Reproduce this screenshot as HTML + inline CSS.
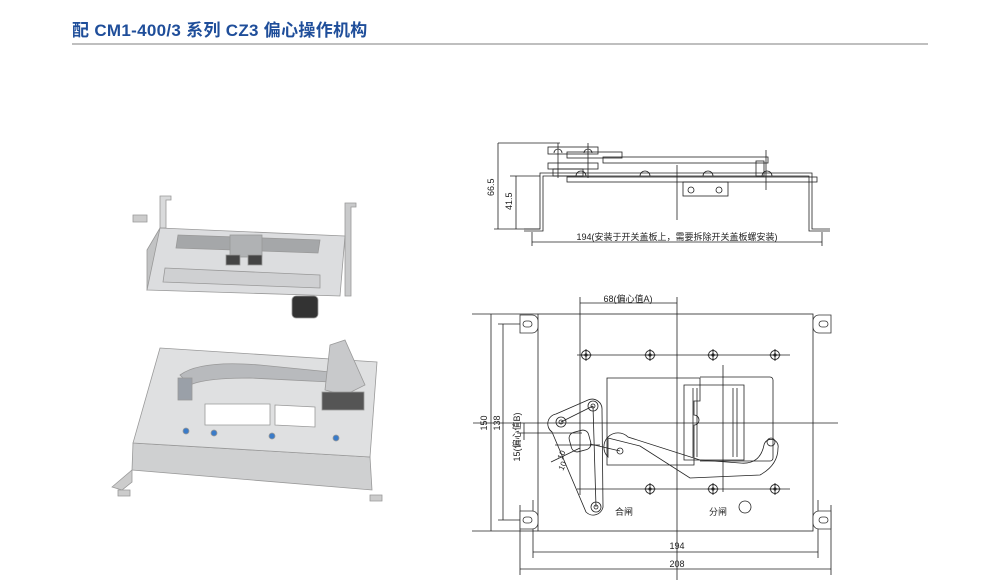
<!DOCTYPE html>
<html><head><meta charset="utf-8"><style>
html,body{margin:0;padding:0;background:#fff;width:1000px;height:583px;overflow:hidden}
svg{position:absolute;left:0;top:0}
.t{font-family:"Liberation Sans","Noto Sans CJK SC",sans-serif}
</style></head><body>
<svg width="1000" height="583" viewBox="0 0 1000 583" xmlns="http://www.w3.org/2000/svg">
<defs>
<g id="hole"><circle r="4.5" fill="none" stroke="#222" stroke-width="0.9"/><line x1="-6" y1="0" x2="6" y2="0" stroke="#222" stroke-width="0.9"/><line x1="0" y1="-6" x2="0" y2="6" stroke="#222" stroke-width="0.9"/><circle r="1.6" fill="#222"/></g>
<g id="ear"><path d="M-8,-9 h12 a6,6 0 0 1 6,6 v6 a6,6 0 0 1 -6,6 h-12 z" fill="#fff" stroke="#333" stroke-width="0.8"/><rect x="-5" y="-3" width="9" height="6" rx="3" fill="none" stroke="#333" stroke-width="0.8"/></g>
</defs>
<text x="72" y="36" class="t" font-size="17" font-weight="bold" fill="#1f4e9a" letter-spacing="0.3">配 CM1-400/3 系列 CZ3 偏心操作机构</text>
<line x1="72" y1="44" x2="928" y2="44" stroke="#999" stroke-width="1.2"/>

<!-- photo 1 -->
<g stroke="#999" stroke-width="0.8">
<polygon points="160,196 171,196 171,200 166,200 166,228 160,228" fill="#d9dadb"/>
<polygon points="345,203 356,203 356,207 351,207 351,296 345,296" fill="#c9cacb"/>
<polygon points="147,250 160,228 160,278 147,290" fill="#c2c3c4"/>
<polygon points="160,228 345,236 340,296 147,290" fill="#dcdddf"/>
<polygon points="178,235 320,240 318,253 176,248" fill="#a5a7a9"/>
<polygon points="165,268 320,275 320,288 163,282" fill="#cfd0d2"/>
<rect x="230" y="235" width="32" height="22" fill="#b0b2b4"/>
<rect x="226" y="255" width="14" height="10" fill="#444"/><rect x="248" y="255" width="14" height="10" fill="#444"/>
<rect x="292" y="296" width="26" height="22" rx="4" fill="#333"/>
<polygon points="133,215 147,215 147,222 133,222" fill="#ccc"/>
</g>
<!-- photo 2 -->
<g stroke="#999" stroke-width="0.8">
<polygon points="133,443 370,457 372,490 132,470" fill="#cfd0d1"/>
<polygon points="112,487 132,470 132,482 122,490" fill="#ccc"/>
<polygon points="160,348 377,362 370,457 133,443" fill="#dfe0e1"/>
<polygon points="205,404 270,404 270,425 205,425" fill="#fff"/>
<polygon points="275,405 315,407 315,427 275,425" fill="#fff"/>
<path d="M180,375 Q200,360 260,365 L330,372 L330,382 L250,378 Q205,378 190,385 Z" fill="#b8babd"/>
<rect x="178" y="378" width="14" height="22" fill="#9aa0a8"/>
<polygon points="330,345 345,340 365,385 345,395 325,390" fill="#c8c9cb"/>
<rect x="322" y="392" width="42" height="18" fill="#555"/>
<circle cx="186" cy="431" r="3" fill="#3a7bc8"/><circle cx="214" cy="433" r="3" fill="#3a7bc8"/><circle cx="272" cy="436" r="3" fill="#3a7bc8"/><circle cx="336" cy="438" r="3" fill="#3a7bc8"/>
<polygon points="118,490 130,490 130,496 118,496" fill="#ccc"/>
<polygon points="370,495 382,495 382,501 370,501" fill="#ccc"/>
</g>

<g fill="none" stroke="#222" stroke-width="0.8">
<line x1="498" y1="143" x2="560" y2="143"/>
<line x1="498" y1="143" x2="498" y2="229"/>
<line x1="516" y1="176" x2="516" y2="229"/>
<line x1="510" y1="176" x2="540" y2="176"/>
<line x1="494" y1="229" x2="540" y2="229"/>
<path d="M524,229 H540 V173 H812 V229 H830"/>
<path d="M524,231 H543 V176 H809 V231 H830"/>
<line x1="532" y1="242" x2="822" y2="242"/>
<line x1="532" y1="232" x2="532" y2="246"/><line x1="822" y1="232" x2="822" y2="246"/>
<rect x="548" y="147" width="50" height="7"/>
<rect x="548" y="163" width="50" height="6"/>
<rect x="567" y="152" width="55" height="6"/>
<rect x="603" y="157" width="165" height="6"/>
<rect x="567" y="177" width="250" height="5"/>
<rect x="553" y="169" width="30" height="7"/>
<rect x="756" y="161" width="8" height="15"/>
<rect x="683" y="182" width="45" height="14"/>
<line x1="677" y1="165" x2="677" y2="220"/>
<line x1="558" y1="143" x2="558" y2="178"/><line x1="588" y1="143" x2="588" y2="178"/>
<line x1="766" y1="150" x2="766" y2="190"/>
</g>
<g fill="none" stroke="#222" stroke-width="0.8">
<path d="M554,153 a4,4 0 0 1 8,0"/><path d="M584,153 a4,4 0 0 1 8,0"/>
<path d="M576,176 a5,5 0 0 1 10,0"/><path d="M640,176 a5,5 0 0 1 10,0"/>
<path d="M703,176 a5,5 0 0 1 10,0"/><path d="M762,176 a5,5 0 0 1 10,0"/>
<circle cx="691" cy="190" r="3"/><circle cx="719" cy="190" r="3"/>
</g>
<text x="494" y="196" class="t" font-size="9" fill="#222" transform="rotate(-90 494 196)">66.5</text>
<text x="512" y="210" class="t" font-size="9" fill="#222" transform="rotate(-90 512 210)">41.5</text>
<text x="677" y="240" class="t" font-size="9" fill="#222" text-anchor="middle">194(安装于开关盖板上，需要拆除开关盖板螺安装)</text>

<g fill="none" stroke="#222" stroke-width="0.8">
<rect x="538" y="314" width="275" height="217"/>
<line x1="472" y1="314" x2="538" y2="314"/><line x1="472" y1="531" x2="538" y2="531"/>
<line x1="491" y1="314" x2="491" y2="531"/>
<line x1="498" y1="324" x2="538" y2="324"/><line x1="498" y1="520" x2="538" y2="520"/>
<line x1="503" y1="324" x2="503" y2="520"/>
<line x1="533" y1="500" x2="533" y2="558"/><line x1="818" y1="500" x2="818" y2="558"/>
<line x1="533" y1="552" x2="818" y2="552"/>
<line x1="520" y1="505" x2="520" y2="575"/><line x1="831" y1="505" x2="831" y2="575"/>
<line x1="520" y1="569" x2="831" y2="569"/>
<line x1="580" y1="297" x2="580" y2="495"/>
<line x1="677" y1="297" x2="677" y2="580"/>
<line x1="580" y1="303" x2="677" y2="303"/>
<line x1="577" y1="355" x2="790" y2="355"/>
<line x1="577" y1="489" x2="790" y2="489"/>
<line x1="473" y1="423" x2="838" y2="423"/>
<line x1="517" y1="433" x2="582" y2="433"/>
<line x1="524" y1="423" x2="524" y2="440"/>
<line x1="723" y1="365" x2="723" y2="492"/>
<path d="M607,378 h93 v23 h-6 v14 a5,5 0 0 1 0,10 v40 h-87 z"/>
<path d="M700,377 h70 a3,3 0 0 1 3,3 v78 a3,3 0 0 1 -3,3 h-70"/>
<path d="M684,385 h60 v75 h-60 z"/>
<line x1="693" y1="388" x2="693" y2="457"/><line x1="697" y1="388" x2="697" y2="457"/>
<line x1="733" y1="388" x2="733" y2="457"/><line x1="737" y1="388" x2="737" y2="457"/>
<path d="M556,414 L588,400 a10,10 0 0 1 14,10 L603,507 a10,10 0 0 1 -17,5 L552,432 a10,10 0 0 1 4,-18 z"/>
<circle cx="593" cy="406" r="5"/><circle cx="593" cy="406" r="2"/>
<circle cx="561" cy="422" r="5"/><circle cx="561" cy="422" r="2"/>
<circle cx="596" cy="507" r="5"/><circle cx="596" cy="507" r="2"/>
<line x1="561" y1="422" x2="593" y2="406"/><line x1="593" y1="406" x2="596" y2="507"/>
<rect x="570" y="431" width="20" height="20" rx="6" transform="rotate(-15 580 441)"/>
<line x1="555" y1="445" x2="600" y2="445"/><line x1="551" y1="462" x2="580" y2="448"/>
<path d="M608,438 L640,446 L690,478 L760,475 Q778,465 778,448 a7,7 0 0 0 -14,-3 Q760,465 740,463 L700,460 L628,437 a13,13 0 0 0 -20,20 Z"/>
<line x1="590" y1="444" x2="620" y2="451"/>
<circle cx="620" cy="451" r="3"/>
<circle cx="771" cy="442" r="4"/>
<circle cx="745" cy="507" r="6"/>
</g>
<use href="#ear" x="528" y="324"/><use href="#ear" x="528" y="520"/>
<use href="#ear" x="823" y="324" transform="translate(1646,0) scale(-1,1)"/>
<use href="#ear" x="823" y="520" transform="translate(1646,0) scale(-1,1)"/>
<use href="#hole" x="586" y="355"/><use href="#hole" x="650" y="355"/><use href="#hole" x="713" y="355"/><use href="#hole" x="775" y="355"/>
<use href="#hole" x="650" y="489"/><use href="#hole" x="713" y="489"/><use href="#hole" x="775" y="489"/>
<text x="628" y="302" class="t" font-size="9" fill="#222" text-anchor="middle">68(偏心值A)</text>
<text x="487" y="423" class="t" font-size="9" fill="#222" text-anchor="middle" transform="rotate(-90 487 423)">150</text>
<text x="500" y="423" class="t" font-size="9" fill="#222" text-anchor="middle" transform="rotate(-90 500 423)">138</text>
<text x="520" y="437" class="t" font-size="9" fill="#222" text-anchor="middle" transform="rotate(-90 520 437)">15(偏心值B)</text>
<text x="562" y="460" class="t" font-size="8" fill="#222" transform="rotate(-65 562 460)">10</text>
<text x="563" y="471" class="t" font-size="8" fill="#222" transform="rotate(-65 563 471)">10</text>
<text x="615" y="515" class="t" font-size="9" fill="#222">合闸</text>
<text x="709" y="515" class="t" font-size="9" fill="#222">分闸</text>
<text x="677" y="549" class="t" font-size="9" fill="#222" text-anchor="middle">194</text>
<text x="677" y="567" class="t" font-size="9" fill="#222" text-anchor="middle">208</text>
</svg>
</body></html>
